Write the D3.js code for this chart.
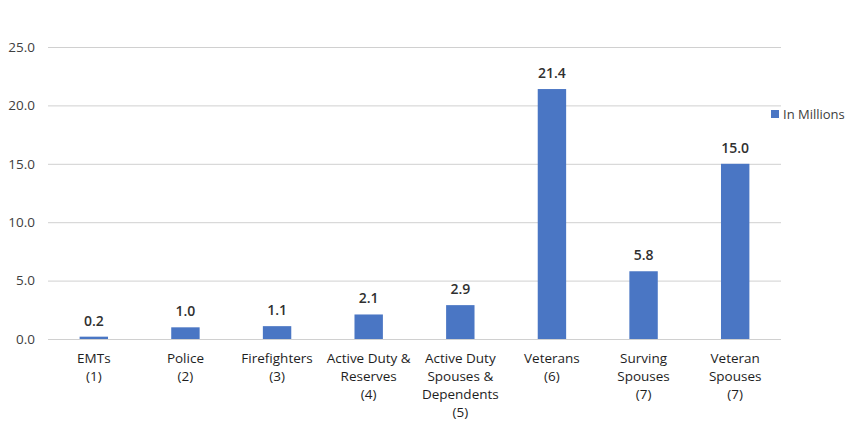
<!DOCTYPE html>
<html><head><meta charset="utf-8">
<script src="https://cdn.jsdelivr.net/npm/d3@7"></script>
<style>body{margin:0;background:#fff;} svg{display:block;font-family:"Open Sans",Lato,sans-serif;}</style>
</head><body>
<svg id="c" width="863" height="424"></svg>
<script>
const categories = [["EMTs","(1)"],["Police","(2)"],["Firefighters","(3)"],["Active Duty &","Reserves","(4)"],["Active Duty","Spouses &","Dependents","(5)"],["Veterans","(6)"],["Surving","Spouses","(7)"],["Veteran","Spouses","(7)"]];
const values = [0.2,1.0,1.1,2.1,2.9,21.4,5.8,15.0];
const yTicks = [0,5,10,15,20,25];
const seriesName = "In Millions";

const svg = d3.select("#c");
const m = {l:48, r:82, t:47, b:85};
const W = 863, H = 424;
const x = d3.scaleBand().domain(d3.range(categories.length)).range([m.l, W-m.r]).paddingInner(0.69).paddingOuter(0.345);
const y = d3.scaleLinear().domain([0,25]).range([H-m.b, m.t]);
const color = "#4a76c4";

const g = svg.append("g");
g.selectAll("line.grid").data(yTicks).join("line")
  .attr("x1", m.l).attr("x2", W-m.r)
  .attr("y1", d=>y(d)+0.5).attr("y2", d=>y(d)+0.5)
  .attr("stroke", "#d0d0d0").attr("stroke-width", 1);

const yAxis = d3.axisLeft(y).tickValues(yTicks).tickFormat(d3.format(".1f")).tickSize(0).tickPadding(13);
const ya = svg.append("g").attr("transform", `translate(${m.l},0)`).call(yAxis);
ya.select(".domain").remove();
ya.selectAll("text").attr("font-size", 13.5).attr("fill", "#404040").attr("font-family", "\"Open Sans\",sans-serif");

g.selectAll("rect.bar").data(values).join("rect")
  .attr("x", (d,i)=>x(i)).attr("width", x.bandwidth())
  .attr("y", d=>y(d)).attr("height", d=>y(0)-y(d))
  .attr("fill", color);

g.selectAll("text.lbl").data(values).join("text")
  .attr("x", (d,i)=>x(i)+x.bandwidth()/2).attr("y", d=>y(d)-11)
  .attr("text-anchor","middle").attr("font-size", 14).attr("font-weight", 600).attr("fill","#303030")
  .text(d=>d3.format(".1f")(d));

categories.forEach((lines,i)=>{
  const t = svg.append("text").attr("text-anchor","middle").attr("font-size",13.5).attr("fill","#1e1e1e")
    .attr("x", x(i)+x.bandwidth()/2).attr("y", y(0)+24);
  lines.forEach((ln,j)=>t.append("tspan").attr("x", x(i)+x.bandwidth()/2).attr("dy", j===0?0:18).text(ln));
});

const lg = svg.append("g").attr("transform","translate(771,110)");
lg.append("rect").attr("width",8).attr("height",8).attr("fill",color);
lg.append("text").attr("x",12).attr("y",8.5).attr("font-size",13).attr("fill","#404040").text(seriesName);
</script>
</body></html>
